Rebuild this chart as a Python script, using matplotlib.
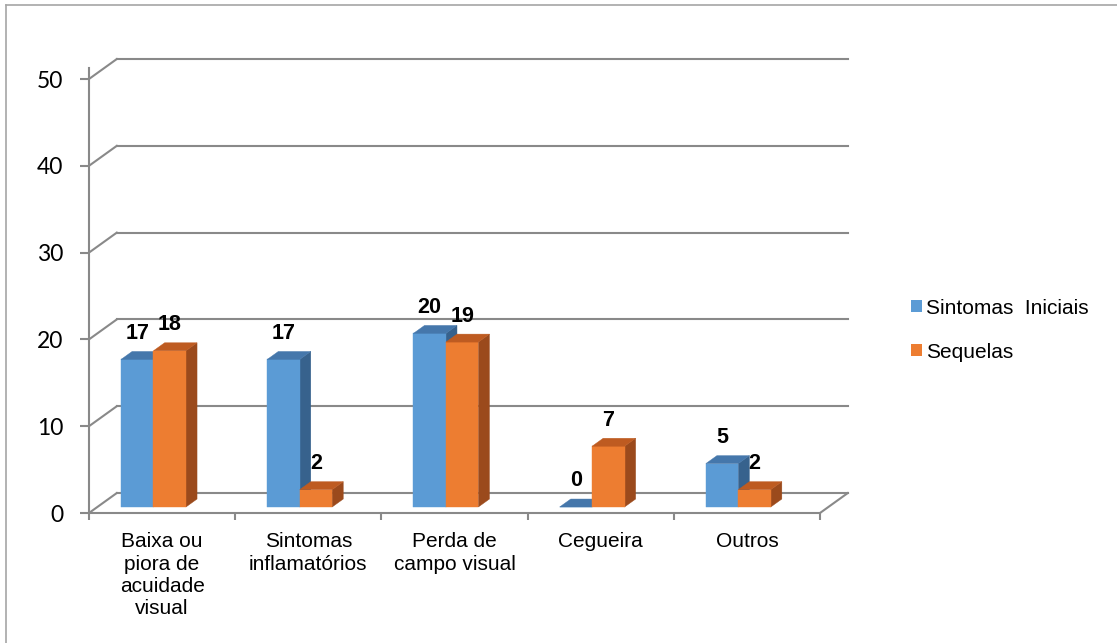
import matplotlib
matplotlib.use("Agg")
import matplotlib.pyplot as plt
from matplotlib.patches import Polygon, Patch
from matplotlib.lines import Line2D

# Datos del gráfico
categorias = ["Baixa ou\npiora de\nacuidade\nvisual", "Sintomas\ninflamatórios",
              "Perda de\ncampo visual", "Cegueira", "Outros"]
sintomas_iniciais = [17, 17, 20, 0, 5]
sequelas = [18, 2, 19, 7, 2]
series_nomes = ["Sintomas  Iniciais", "Sequelas"]
y_ticks = [0, 10, 20, 30, 40, 50]

# Colores (frente, tapa, lateral)
azul = ("#5B9BD5", "#4577AB", "#37628D")
naranja = ("#ED7D31", "#BE5B21", "#9B4A1C")
gris = "#898989"

# Geometría de la proyección oblicua
DX = 0.19    # desplazamiento en x por unidad de profundidad (unidades de categoría)
DY = 2.3     # desplazamiento en y por unidad de profundidad (unidades de valor)
Z0, Z1 = 0.3, 0.7   # profundidad de las barras
OFF = 0.162  # inicio del par de barras dentro de la categoría
BW = 0.222   # ancho de cada barra


def proj(x, y, z):
    """Proyecta un punto 3D al plano frontal."""
    return (x + z * DX, y + z * DY)


fig = plt.figure(figsize=(11.17, 6.43), dpi=100)
ax = fig.add_axes([89 / 1117, 1 - 513 / 643, 731 / 1117, 434 / 643])
ax.set_xlim(0, 5)
ax.set_ylim(0, 50)
for s in ax.spines.values():
    s.set_visible(False)

# Paredes: líneas de la cuadrícula al fondo y diagonales a la izquierda
for v in y_ticks:
    p0, p1 = proj(0, v, 1), proj(5, v, 1)
    ax.plot([p0[0], p1[0]], [p0[1], p1[1]], color=gris, lw=1.5, clip_on=False, zorder=1)
    q0 = proj(0, v, 0)
    ax.plot([q0[0], p0[0]], [q0[1], p0[1]], color=gris, lw=1.5, clip_on=False, zorder=1)

# Piso: borde frontal y diagonal derecha
a, b = proj(0, 0, 0), proj(5, 0, 0)
ax.plot([a[0], b[0]], [a[1], b[1]], color=gris, lw=1.5, clip_on=False, zorder=1)
c = proj(5, 0, 1)
ax.plot([b[0], c[0]], [b[1], c[1]], color=gris, lw=1.5, clip_on=False, zorder=1)

# Eje vertical frontal
ax.plot([0, 0], [0, 51.3], color=gris, lw=1.5, clip_on=False, zorder=1)

# Barras 3D
for i in range(len(categorias)):
    for j, (valores, col) in enumerate([(sintomas_iniciais, azul), (sequelas, naranja)]):
        v = valores[i]
        x0 = i + OFF + j * BW
        x1 = x0 + BW
        frente = [proj(x0, 0, Z0), proj(x1, 0, Z0), proj(x1, v, Z0), proj(x0, v, Z0)]
        tapa = [proj(x0, v, Z0), proj(x1, v, Z0), proj(x1, v, Z1), proj(x0, v, Z1)]
        lado = [proj(x1, 0, Z0), proj(x1, 0, Z1), proj(x1, v, Z1), proj(x1, v, Z0)]
        for pts, fc in [(lado, col[2]), (frente, col[0]), (tapa, col[1])]:
            ax.add_patch(Polygon(pts, closed=True, facecolor=fc, edgecolor=fc,
                                 lw=0.3, clip_on=False, zorder=3))
        cx, cy = proj((x0 + x1) / 2, v, Z0)
        ax.text(cx, cy + 3.0, str(v), ha="center", va="center", fontsize=15.5,
                fontweight="bold", family="Liberation Sans", zorder=5)

# Marcas y etiquetas
ax.set_yticks(y_ticks)
ax.set_yticklabels([str(t) for t in y_ticks], family="Lato", fontsize=16.5)
ax.tick_params(axis="y", length=6.5, width=1.5, color=gris, pad=12)
ax.set_xticks(range(6))
ax.set_xticklabels([""] * 6)
ax.tick_params(axis="x", which="major", length=5, width=1.5, color=gris)
ax.set_xticks([i + 0.5 for i in range(5)], minor=True)
ax.set_xticklabels(categorias, minor=True, family="Liberation Sans", fontsize=15,
                   linespacing=1.22)
ax.tick_params(axis="x", which="minor", length=0, pad=14)

# Leyenda
handles = [Patch(facecolor=azul[0]), Patch(facecolor=naranja[0])]
fig.legend(handles, series_nomes, loc="center left", bbox_to_anchor=(911 / 1117, 1 - 330 / 643),
           frameon=False, prop={"family": "Liberation Sans", "size": 15},
           handlelength=0.52, handleheight=0.52, handletextpad=0.2, labelspacing=1.2,
           borderpad=0, borderaxespad=0)

# Borde del gráfico (solo arriba e izquierda visibles)
fig.add_artist(Line2D([6 / 1117, 1], [1 - 5 / 643] * 2, transform=fig.transFigure,
                      color="#a6a6a6", lw=1.2))
fig.add_artist(Line2D([6 / 1117] * 2, [0, 1 - 5 / 643], transform=fig.transFigure,
                      color="#a6a6a6", lw=1.2))

fig.savefig("out.png", dpi=100)
